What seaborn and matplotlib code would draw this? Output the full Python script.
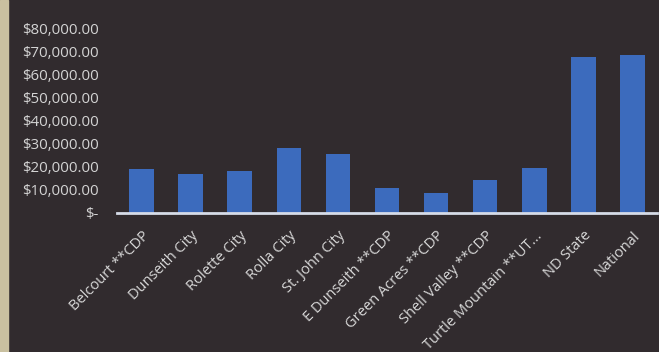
import matplotlib
matplotlib.use("Agg")
import matplotlib.pyplot as plt
import seaborn as sns
import pandas as pd

places = ["Belcourt **CDP", "Dunseith City", "Rolette City", "Rolla City", "St. John City",
          "E Dunseith **CDP", "Green Acres **CDP", "Shell Valley **CDP",
          "Turtle Mountain **UT...", "ND State", "National"]
income = [19000, 16800, 18300, 28100, 25700, 10700, 8700, 14200, 19600, 67800, 68600]
ytick_values = [0, 10000, 20000, 30000, 40000, 50000, 60000, 70000, 80000]
ytick_labels = ["$-", "$10,000.00", "$20,000.00", "$30,000.00", "$40,000.00",
                "$50,000.00", "$60,000.00", "$70,000.00", "$80,000.00"]

df = pd.DataFrame({"place": places, "income": income})

sns.set_style("dark")
plt.rcParams["font.family"] = ["Open Sans", "DejaVu Sans"]

bg = "#312b2e"
fig = plt.figure(figsize=(6.59, 3.52), dpi=100, facecolor=bg)
ax = fig.add_axes([0.1775, 0.395, 0.8195, 0.523])
ax.set_facecolor(bg)

sns.barplot(data=df, x="place", y="income", color="#3c6bbd", width=0.5,
            saturation=1, ax=ax, edgecolor="none")

ax.set_ylim(0, 80000)
ax.set_xlim(-0.5, len(places) - 0.5)
ax.set_yticks(ytick_values)
ax.set_yticklabels(ytick_labels, color="#d4d4d4", fontsize=10.8)
ax.set_xticks(range(len(places)))
ax.set_xticklabels(places, rotation=45, ha="right", rotation_mode="anchor",
                   color="#d8d8d8", fontsize=10.5)
ax.tick_params(axis="x", length=0, pad=11)
ax.tick_params(axis="y", length=0, pad=13)
ax.set_xlabel("")
ax.set_ylabel("")
ax.grid(False)
for s in ["top", "right", "left"]:
    ax.spines[s].set_visible(False)
ax.spines["bottom"].set_visible(True)
ax.spines["bottom"].set_color("#d6dce8")
ax.spines["bottom"].set_linewidth(2)

# scanned left edge strip
fig.patches.append(plt.Rectangle((0, 0), 0.012, 1, transform=fig.transFigure,
                                 color="#c9c0a0", zorder=0))

fig.savefig("out.png", dpi=100, facecolor=bg)
